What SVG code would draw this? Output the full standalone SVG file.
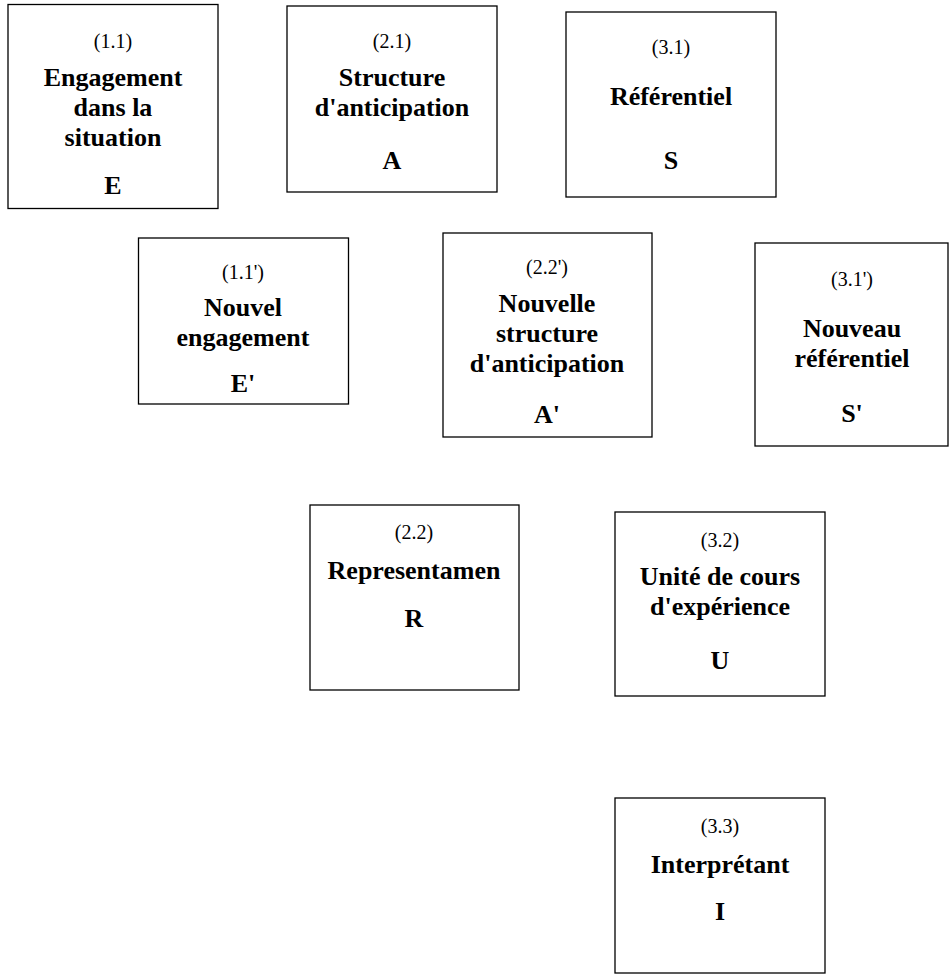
<svg xmlns="http://www.w3.org/2000/svg" width="951" height="975" viewBox="0 0 951 975">
<style>
.box{fill:#fff;stroke:#000;stroke-width:1.3}
.lbl{font-family:"Liberation Serif","Times New Roman",serif;font-size:20px;text-anchor:middle;fill:#000}
.ttl{font-family:"Liberation Serif","Times New Roman",serif;font-size:26px;font-weight:bold;text-anchor:middle;fill:#000}
</style>
<rect width="951" height="975" fill="#fff"/>
<g id="connectors"></g>
<g id="n11">
<rect class="box" x="8" y="4.5" width="210" height="204"/>
<text class="lbl" x="113" y="48">(1.1)</text>
<text class="ttl" x="113" y="86">Engagement</text>
<text class="ttl" x="113" y="116">dans la</text>
<text class="ttl" x="113" y="146">situation</text>
<text class="ttl" x="113" y="194">E</text>
</g>
<g id="n21">
<rect class="box" x="287" y="6" width="210" height="186"/>
<text class="lbl" x="392" y="48">(2.1)</text>
<text class="ttl" x="392" y="86">Structure</text>
<text class="ttl" x="392" y="116">d'anticipation</text>
<text class="ttl" x="392" y="169">A</text>
</g>
<g id="n31">
<rect class="box" x="566" y="12" width="210" height="185"/>
<text class="lbl" x="671" y="54">(3.1)</text>
<text class="ttl" x="671" y="105">Référentiel</text>
<text class="ttl" x="671" y="169">S</text>
</g>
<g id="n11p">
<rect class="box" x="138.5" y="238" width="210" height="166"/>
<text class="lbl" x="243" y="279">(1.1')</text>
<text class="ttl" x="243" y="316">Nouvel</text>
<text class="ttl" x="243" y="346">engagement</text>
<text class="ttl" x="243" y="392">E'</text>
</g>
<g id="n22p">
<rect class="box" x="443" y="233" width="209" height="204"/>
<text class="lbl" x="547" y="274">(2.2')</text>
<text class="ttl" x="547" y="312">Nouvelle</text>
<text class="ttl" x="547" y="342">structure</text>
<text class="ttl" x="547" y="372">d'anticipation</text>
<text class="ttl" x="547" y="423">A'</text>
</g>
<g id="n31p">
<rect class="box" x="755" y="243" width="193" height="203"/>
<text class="lbl" x="852" y="286">(3.1')</text>
<text class="ttl" x="852" y="337">Nouveau</text>
<text class="ttl" x="852" y="367">référentiel</text>
<text class="ttl" x="852" y="422">S'</text>
</g>
<g id="n22">
<rect class="box" x="310" y="505" width="209" height="185"/>
<text class="lbl" x="414" y="539">(2.2)</text>
<text class="ttl" x="414" y="579">Representamen</text>
<text class="ttl" x="414" y="627">R</text>
</g>
<g id="n32">
<rect class="box" x="615" y="512" width="210" height="184"/>
<text class="lbl" x="720" y="547">(3.2)</text>
<text class="ttl" x="720" y="585">Unité de cours</text>
<text class="ttl" x="720" y="615">d'expérience</text>
<text class="ttl" x="720" y="669">U</text>
</g>
<g id="n33">
<rect class="box" x="615" y="798" width="210" height="175"/>
<text class="lbl" x="720" y="833">(3.3)</text>
<text class="ttl" x="720" y="873">Interprétant</text>
<text class="ttl" x="720" y="920">I</text>
</g>
</svg>
